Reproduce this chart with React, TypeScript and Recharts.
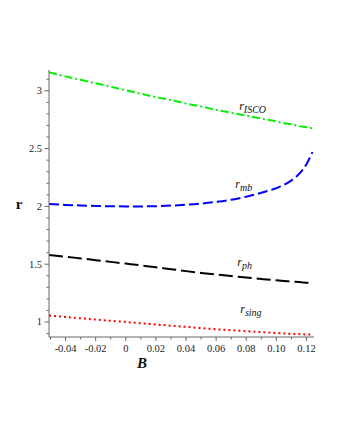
import { LineChart, Line, XAxis, YAxis, ReferenceDot } from 'recharts'

// magnetic parameter B and the radii
const B = [-0.051, -0.04, -0.03, -0.02, -0.01, 0, 0.01, 0.02, 0.03, 0.04, 0.05, 0.06, 0.07, 0.08, 0.09, 0.1, 0.105, 0.11, 0.115, 0.12, 0.124]
const rISCO = [3.16, 3.125, 3.095, 3.065, 3.035, 3.005, 2.975, 2.945, 2.92, 2.89, 2.865, 2.835, 2.81, 2.785, 2.76, 2.735, 2.72, 2.71, 2.695, 2.685, 2.675]
const rMb = [2.02, 2.013, 2.008, 2.004, 2.001, 2.0, 2.0, 2.002, 2.007, 2.014, 2.024, 2.039, 2.058, 2.084, 2.118, 2.158, 2.185, 2.225, 2.28, 2.365, 2.47]
const rPh = [1.58, 1.565, 1.55, 1.535, 1.52, 1.505, 1.49, 1.473, 1.457, 1.44, 1.424, 1.41, 1.397, 1.385, 1.372, 1.36, 1.355, 1.35, 1.345, 1.34, 1.336]
const rSing = [1.055, 1.043, 1.032, 1.021, 1.01, 1.0, 0.989, 0.978, 0.968, 0.958, 0.947, 0.937, 0.929, 0.92, 0.912, 0.905, 0.901, 0.898, 0.895, 0.892, 0.89]

const xTicks = [-0.05, -0.04, -0.03, -0.02, -0.01, 0, 0.01, 0.02, 0.03, 0.04, 0.05, 0.06, 0.07, 0.08, 0.09, 0.1, 0.11, 0.12]
const yTicks = [0.9, 1, 1.1, 1.2, 1.3, 1.4, 1.5, 1.6, 1.7, 1.8, 1.9, 2, 2.1, 2.2, 2.3, 2.4, 2.5, 2.6, 2.7, 2.8, 2.9, 3, 3.1]

// curve labels: [main, subscript, B, r]
const curveLabels: [string, string, number, number][] = [
  ['r', 'ISCO', 0.0773, 2.835],
  ['r', 'mb', 0.0747, 2.16],
  ['r', 'ph', 0.076, 1.485],
  ['r', 'sing', 0.078, 1.078],
]

const data = B.map((b, i) => ({ B: b, isco: rISCO[i], mb: rMb[i], ph: rPh[i], sing: rSing[i] }))

const FONT = '"Liberation Serif", "DejaVu Serif", serif'
const AXIS = '#666'

function XTick(props: any) {
  const { x, y, payload } = props
  const v = payload.value
  const major = Math.round(v * 100) % 2 === 0
  return (
    <g>
      <line x1={x} x2={x} y1={y} y2={y + (major ? 4 : 2.5)} stroke={AXIS} />
      {major && (
        <text x={x} y={y + 15} textAnchor="middle" fontFamily={FONT} fontSize={10.5} fill="#222">
          {v === 0 ? '0' : v.toFixed(2)}
        </text>
      )}
    </g>
  )
}

function YTick(props: any) {
  const { x, y, payload } = props
  const v = payload.value
  const major = Math.round(v * 10) % 5 === 0
  return (
    <g>
      <line x1={x} x2={x - (major ? 4.5 : 2.5)} y1={y} y2={y} stroke={AXIS} />
      {major && (
        <text x={x - 7} y={y + 3.5} textAnchor="end" fontFamily={FONT} fontSize={10.5} fill="#222">
          {String(v)}
        </text>
      )}
    </g>
  )
}

export default function App() {
  return (
    <div style={{ position: 'absolute', left: 0, top: 0, background: '#fff' }}>
      <LineChart width={340} height={440} data={data} margin={{ top: 70, right: 26, left: 9, bottom: 73 }}>
        <XAxis
          dataKey="B"
          type="number"
          domain={[-0.051, 0.125]}
          allowDataOverflow
          ticks={xTicks}
          interval={0}
          tick={<XTick />}
          tickLine={false}
          tickSize={0}
          tickMargin={0}
          height={30}
          axisLine={{ stroke: AXIS }}
          label={(p: any) => (
            <text
              x={p.viewBox.x + 93}
              y={p.viewBox.y + 31}
              textAnchor="middle"
              fontFamily={FONT}
              fontSize={15}
              fontWeight="bold"
              fontStyle="italic"
              fill="#111"
            >
              B
            </text>
          )}
        />
        <XAxis xAxisId="top" orientation="top" type="number" domain={[-0.051, 0.125]} height={0} tick={false} tickLine={false} axisLine={{ stroke: AXIS }} />
        <YAxis
          type="number"
          domain={[0.87, 3.18]}
          allowDataOverflow
          ticks={yTicks}
          interval={0}
          tick={<YTick />}
          tickLine={false}
          tickSize={0}
          tickMargin={0}
          width={40}
          axisLine={{ stroke: AXIS }}
          label={(p: any) => (
            <text
              x={p.viewBox.x + 10}
              y={p.viewBox.y + p.viewBox.height / 2 + 5}
              textAnchor="middle"
              fontFamily={FONT}
              fontSize={15}
              fontWeight="bold"
              fill="#111"
            >
              r
            </text>
          )}
        />
        <YAxis yAxisId="right" orientation="right" type="number" domain={[0.87, 3.18]} width={0} tick={false} tickLine={false} axisLine={{ stroke: AXIS }} />

        <Line type="monotone" dataKey="isco" stroke="#00f000" strokeWidth={2} strokeDasharray="8 3 2 3" dot={false} isAnimationActive={false} />
        <Line type="monotone" dataKey="mb" stroke="#0000ff" strokeWidth={2} strokeDasharray="10 4" dot={false} isAnimationActive={false} />
        <Line type="monotone" dataKey="ph" stroke="#000" strokeWidth={2} strokeDasharray="14 5" dot={false} isAnimationActive={false} />
        <Line type="monotone" dataKey="sing" stroke="#ff0000" strokeWidth={2} strokeDasharray="2 3" dot={false} isAnimationActive={false} />

        {curveLabels.map(([main, sub, bx, ry]) => (
          <ReferenceDot
            key={sub}
            x={bx}
            y={ry}
            r={0}
            stroke="none"
            label={(p: any) => (
              <text x={p.viewBox.x - 3} y={p.viewBox.y} fontFamily={FONT} fontStyle="italic" fontSize={12} fill="#111">
                {main}
                <tspan fontSize={10} dy={3}>{sub}</tspan>
              </text>
            )}
          />
        ))}
      </LineChart>
    </div>
  )
}
